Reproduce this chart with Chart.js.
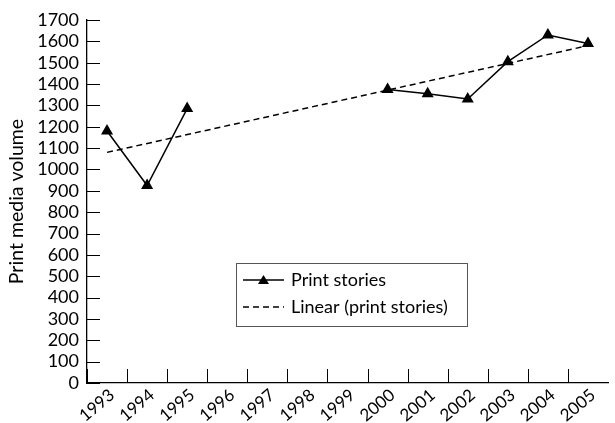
<!DOCTYPE html>
<html>
<head>
<meta charset="utf-8">
<script src="https://cdn.jsdelivr.net/npm/chart.js@4/dist/chart.umd.min.js"></script>
<style>
html, body { margin: 0; padding: 0; background: #fff; }
#wrap { width: 615px; height: 423px; }
</style>
</head>
<body>
<div id="wrap"><canvas id="c"></canvas></div>
<script>
var years = ["1993", "1994", "1995", "1996", "1997", "1998", "1999", "2000", "2001", "2002", "2003", "2004", "2005"];
var printStories = [1180, 925, 1285, null, null, null, null, 1375, 1355, 1330, 1505, 1630, 1590];
var linearTrend = [1080, null, null, null, null, null, null, null, null, null, null, null, 1580];
var yTicks = { min: 0, max: 1700, step: 100 };

var FONT = "Lato, 'DejaVu Sans', sans-serif";

// ticks pointing inward, as in the original
var innerTicks = {
    id: "innerTicks",
    afterDraw: function (chart) {
        var ctx = chart.ctx, x = chart.scales.x, y = chart.scales.y, a = chart.chartArea;
        ctx.save();
        ctx.strokeStyle = "#000"; ctx.lineWidth = 1;
        ctx.beginPath();
        y.ticks.forEach(function (t) {
            var py = Math.round(y.getPixelForValue(t.value)) + 0.5;
            ctx.moveTo(a.left, py); ctx.lineTo(a.left + 13, py);
        });
        for (var i = 0; i < years.length; i++) {
            var px = Math.round(x.getPixelForValue(i - 0.5)) + 0.5;
            ctx.moveTo(px, a.bottom); ctx.lineTo(px, a.bottom - 14);
        }
        ctx.stroke();
        ctx.restore();
    }
};

// legend box inside the plot
var boxLegend = {
    id: "boxLegend",
    afterDraw: function (chart) {
        var ctx = chart.ctx, a = chart.chartArea;
        var lx = a.left + 149, ly = a.top + 243, w = 231, h = 63;
        ctx.save();
        ctx.fillStyle = "#fff";
        ctx.fillRect(lx, ly, w, h);
        ctx.strokeStyle = "#555"; ctx.lineWidth = 1;
        ctx.strokeRect(lx + 0.5, ly + 0.5, w, h);
        ctx.strokeStyle = "#000"; ctx.lineWidth = 1.5;
        ctx.beginPath();
        ctx.moveTo(lx + 7, ly + 17); ctx.lineTo(lx + 48, ly + 17);
        ctx.stroke();
        ctx.fillStyle = "#000";
        ctx.beginPath();
        ctx.moveTo(lx + 27.5, ly + 12); ctx.lineTo(lx + 33, ly + 21); ctx.lineTo(lx + 22, ly + 21);
        ctx.closePath(); ctx.fill();
        ctx.setLineDash([6, 4]);
        ctx.beginPath();
        ctx.moveTo(lx + 7, ly + 44); ctx.lineTo(lx + 48, ly + 44);
        ctx.stroke();
        ctx.setLineDash([]);
        ctx.font = "18px " + FONT;
        ctx.textBaseline = "middle";
        ctx.fillText("Print stories", lx + 55, ly + 17);
        ctx.fillText("Linear (print stories)", lx + 55, ly + 44);
        ctx.restore();
    }
};

new Chart(document.getElementById("c"), {
    type: "line",
    data: {
        labels: years,
        datasets: [
            { label: "Print stories", data: printStories, borderColor: "#000", backgroundColor: "#000", borderWidth: 1.5,
              pointStyle: "triangle", pointRadius: 5.5, pointHoverRadius: 5.5, spanGaps: false, tension: 0 },
            { label: "Linear (print stories)", data: linearTrend, borderColor: "#000", borderWidth: 1.5, borderDash: [6, 4],
              pointRadius: 0, spanGaps: true, tension: 0 }
        ]
    },
    options: {
        responsive: true,
        maintainAspectRatio: false,
        animation: false,
        layout: { padding: { top: 20, right: 0, left: 0, bottom: 0 } },
        plugins: { legend: { display: false }, tooltip: { enabled: false } },
        scales: {
            x: {
                offset: true,
                grid: { display: false, drawTicks: false },
                border: { display: true, color: "#000", width: 1.3 },
                ticks: { color: "#000", font: { family: FONT, size: 17 }, minRotation: 40, maxRotation: 40, padding: 2, labelOffset: 5, autoSkip: false },
                afterFit: function (s) { s.height = 40; }
            },
            y: {
                min: yTicks.min, max: yTicks.max,
                grid: { display: false, drawTicks: false },
                border: { display: true, color: "#000", width: 1.3 },
                ticks: { stepSize: yTicks.step, autoSkip: false, color: "#000", font: { family: FONT, size: 18 }, padding: 8,
                         callback: function (v) { return String(v); } },
                title: { display: true, text: "Print media volume", color: "#000", font: { family: FONT, size: 19.5 }, padding: { top: 5, bottom: 0 } },
                afterFit: function (s) { s.width = 87; }
            }
        }
    },
    plugins: [innerTicks, boxLegend]
});
</script>
</body>
</html>
